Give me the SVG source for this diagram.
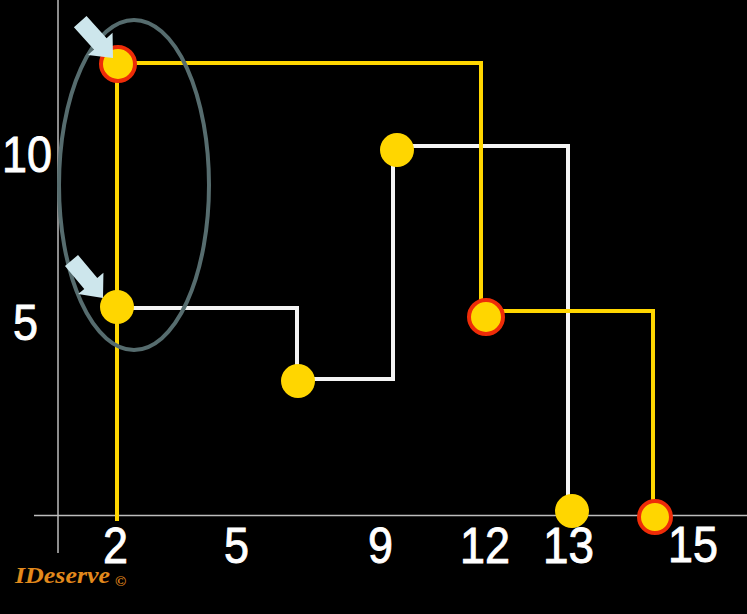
<svg xmlns="http://www.w3.org/2000/svg" width="747" height="614" viewBox="0 0 747 614">
<style>
.axis{stroke:#bdbdbd;stroke-width:1.5;fill:none}
.yl{stroke:#ffd600;stroke-width:4;fill:none;stroke-linejoin:miter}
.wl{stroke:#f4f4f4;stroke-width:4;fill:none;stroke-linejoin:miter}
.dot{fill:#ffd600}
.rdot{fill:#ffd600;stroke:#ee2c08;stroke-width:4}
.lbl{font-family:"Liberation Sans",Arial,sans-serif;font-size:50px;fill:#ffffff;stroke:#ffffff;stroke-width:0.9}
.arrow{fill:#cde6ec}
.ring{fill:none;stroke:#566c6e;stroke-width:4}
.logo{font-family:"Liberation Serif","DejaVu Serif",serif;font-style:italic;font-weight:bold;fill:#e2891c}
</style>
<defs>
<polygon id="blk" points="-49,-8.5 -19,-8.5 -19,-16.5 0,0 -19,16.5 -19,8.5 -49,8.5"/>
</defs>
<rect x="0" y="0" width="747" height="614" fill="#000000"/>
<g id="axes">
<line class="axis" x1="34" y1="515.5" x2="747" y2="515.5"/>
<line class="axis" x1="58" y1="0" x2="58" y2="553"/>
</g>
<g id="connectors">
<polyline class="wl" points="117,308 297,308 297,381"/>
<polyline class="wl" points="298,379 393,379 393,150"/>
<polyline class="wl" points="397,146 568,146 568,511"/>
<polyline class="yl" points="117,521 117,63"/>
<polyline class="yl" points="118,63 481,63 481,317"/>
<polyline class="yl" points="486,311 653,311 653,517"/>
</g>
<g id="node-a1"><circle class="rdot" cx="118" cy="64" r="17"/></g>
<g id="node-a2"><circle class="rdot" cx="486" cy="317" r="17"/></g>
<g id="node-a3"><circle class="rdot" cx="655" cy="517" r="16"/></g>
<g id="node-b1"><circle class="dot" cx="117" cy="307" r="17"/></g>
<g id="node-b2"><circle class="dot" cx="298" cy="381" r="17"/></g>
<g id="node-b3"><circle class="dot" cx="397" cy="150" r="17"/></g>
<g id="node-b4"><circle class="dot" cx="572" cy="511" r="17"/></g>
<g id="highlight">
<ellipse class="ring" cx="134" cy="185" rx="75" ry="165"/>
<use href="#blk" class="arrow" transform="translate(113,58) rotate(48)"/>
<use href="#blk" class="arrow" transform="translate(103,298) rotate(50)"/>
</g>
<g id="labels">
<text class="lbl" x="2" y="172" textLength="50" lengthAdjust="spacingAndGlyphs">10</text>
<text class="lbl" x="13" y="340" textLength="25" lengthAdjust="spacingAndGlyphs">5</text>
<text class="lbl" x="103" y="563" textLength="25" lengthAdjust="spacingAndGlyphs">2</text>
<text class="lbl" x="224" y="563" textLength="25" lengthAdjust="spacingAndGlyphs">5</text>
<text class="lbl" x="368" y="563" textLength="25" lengthAdjust="spacingAndGlyphs">9</text>
<text class="lbl" x="460" y="563" textLength="50" lengthAdjust="spacingAndGlyphs">12</text>
<text class="lbl" x="543" y="563" textLength="51" lengthAdjust="spacingAndGlyphs">13</text>
<text class="lbl" x="668" y="562" textLength="50" lengthAdjust="spacingAndGlyphs">15</text>
</g>
<g id="logo">
<text class="logo" x="15" y="583" font-size="23" textLength="95" lengthAdjust="spacingAndGlyphs">IDeserve</text>
<text class="logo" x="115" y="586" font-size="15">©</text>
</g>
</svg>
